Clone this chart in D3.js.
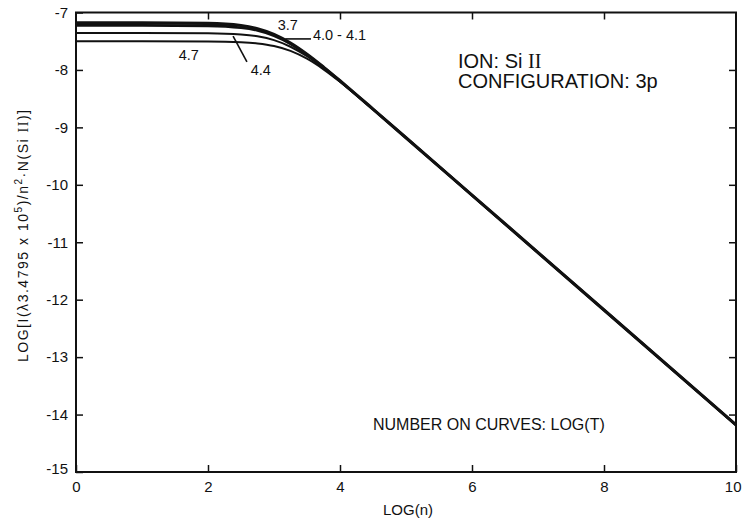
<!DOCTYPE html>
<html><head><meta charset="utf-8">
<script src="https://cdn.jsdelivr.net/npm/d3@7"></script>
<style>
body{margin:0;background:#fff}
svg{display:block}
text{font-family:"Liberation Sans",Arial,Helvetica,sans-serif;fill:#111}
</style>
</head><body>
<svg id="chart" width="742" height="521"></svg>
<script>
// ---- data ----
const logN = [0, 1, 2, 2.5, 2.75, 3, 3.25, 3.5, 3.75, 4, 4.25, 4.5, 5, 6, 8, 10];
const curveT37 = [-7.18, -7.18, -7.189, -7.227, -7.282, -7.381, -7.532, -7.727, -7.951, -8.189, -8.434, -8.682, -9.18, -10.18, -12.18, -14.18];
const curveT40 = [-7.225, -7.225, -7.233, -7.266, -7.314, -7.404, -7.546, -7.735, -7.954, -8.191, -8.435, -8.682, -9.18, -10.18, -12.18, -14.18];
const curveT44 = [-7.355, -7.355, -7.36, -7.382, -7.415, -7.481, -7.596, -7.762, -7.967, -8.196, -8.437, -8.683, -9.181, -10.18, -12.18, -14.18];
const curveT47 = [-7.5, -7.5, -7.503, -7.517, -7.538, -7.583, -7.668, -7.805, -7.989, -8.206, -8.441, -8.685, -9.181, -10.18, -12.18, -14.18];
const curveLabels = ["3.7", "4.0 - 4.1", "4.4", "4.7"];
const xTickValues = [0, 2, 4, 6, 8, 10];
const yTickValues = [-7, -8, -9, -10, -11, -12, -13, -14, -15];

(function () {
const svg = d3.select("#chart");
const mL = 76, mR = 736, mT = 12.5, mB = 472;

const x = d3.scaleLinear().domain([0, 10]).range([mL, mR]);
const y = d3.scaleLinear().domain([-15, -7]).range([mB, mT]);

const ink = "#111";

// axes with inward ticks
const fmt = d => String(d);
const gB = svg.append("g").attr("transform", `translate(0,${mB})`)
  .call(d3.axisBottom(x).tickValues(xTickValues).tickSize(-7).tickSizeOuter(0).tickPadding(9).tickFormat(fmt));
const gT = svg.append("g").attr("transform", `translate(0,${mT})`)
  .call(d3.axisTop(x).tickValues(xTickValues.slice(1, -1)).tickSize(-7).tickSizeOuter(0).tickFormat(""));
const gL = svg.append("g").attr("transform", `translate(${mL},0)`)
  .call(d3.axisLeft(y).tickValues(yTickValues).tickSize(-7).tickSizeOuter(0).tickPadding(8).tickFormat(fmt));
const gR = svg.append("g").attr("transform", `translate(${mR},0)`)
  .call(d3.axisRight(y).tickValues(yTickValues.slice(1, -1)).tickSize(-7).tickSizeOuter(0).tickFormat(""));

[gB, gT, gL, gR].forEach(g => {
  g.select(".domain").remove();
  g.selectAll(".tick line").attr("stroke", ink).attr("stroke-width", 1.5);
  g.selectAll(".tick text").attr("fill", ink).style("font-size", "15px")
    .style("font-family", '"Liberation Sans",Arial,sans-serif');
});
// keep the last x label inside the page
gB.selectAll(".tick text").filter(d => d === 10).attr("text-anchor", "end").attr("dx", 5);
gL.selectAll(".tick text").filter(d => d === -15).attr("dy", "0.1em");

// frame
svg.append("rect").attr("x", mL).attr("y", mT)
  .attr("width", mR - mL).attr("height", mB - mT)
  .attr("fill", "none").attr("stroke", ink).attr("stroke-width", 2);

// curves
const series = [
  {vals: curveT47, w: 2},
  {vals: curveT44, w: 2},
  {vals: curveT40, w: 2.6},
  {vals: curveT37, w: 3.2}
];
const line = d3.line().x(d => x(d[0])).y(d => y(d[1])).curve(d3.curveMonotoneX);
series.forEach(s => {
  svg.append("path")
    .datum(logN.map((n, i) => [n, s.vals[i]]))
    .attr("d", line)
    .attr("fill", "none")
    .attr("stroke", ink)
    .attr("stroke-width", s.w)
    .attr("stroke-linejoin", "round");
});

// curve labels and leaders
const lab = (t, dx, dy, anchor) => svg.append("text")
  .attr("x", x(dx)).attr("y", y(dy)).attr("text-anchor", anchor)
  .style("font-size", "14.5px").text(t);
lab(curveLabels[0], 3.21, -7.305, "middle");
lab(curveLabels[1], 3.59, -7.48, "start");
lab(curveLabels[2], 2.80, -8.09, "middle");
lab(curveLabels[3], 1.71, -7.83, "middle");

svg.append("line").attr("x1", x(3.17)).attr("y1", y(-7.46)).attr("x2", x(3.56)).attr("y2", y(-7.46))
  .attr("stroke", ink).attr("stroke-width", 1.6);
svg.append("line").attr("x1", x(2.38)).attr("y1", y(-7.41)).attr("x2", x(2.59)).attr("y2", y(-7.86))
  .attr("stroke", ink).attr("stroke-width", 1.6);

// ion / configuration text
const info = svg.append("text").attr("x", 458).attr("y", 68).style("font-size", "20px");
info.append("tspan").text("ION: Si ");
info.append("tspan").style("font-family", '"Liberation Serif","Times New Roman",serif').text("II");
svg.append("text").attr("x", 458).attr("y", 88).style("font-size", "20px").text("CONFIGURATION: 3p");

svg.append("text").attr("x", 373).attr("y", 430).style("font-size", "16px").text("NUMBER ON CURVES: LOG(T)");

// axis titles
svg.append("text").attr("x", 408).attr("y", 515).attr("text-anchor", "middle")
  .style("font-size", "15px").text("LOG(n)");

const yt = svg.append("text")
  .attr("transform", "translate(28,236) rotate(-90)")
  .attr("text-anchor", "middle")
  .attr("textLength", 252).attr("lengthAdjust", "spacing")
  .style("font-size", "14px");
yt.append("tspan").text("LOG[I(λ3.4795 x 10");
yt.append("tspan").attr("dy", -6).style("font-size", "10px").text("5");
yt.append("tspan").attr("dy", 6).text(")/n");
yt.append("tspan").attr("dy", -6).style("font-size", "10px").text("2");
yt.append("tspan").attr("dy", 6).text("·N(Si ");
yt.append("tspan").style("font-family", '"Liberation Serif",serif').text("II");
yt.append("tspan").text(")]");
})();
</script>
</body></html>
